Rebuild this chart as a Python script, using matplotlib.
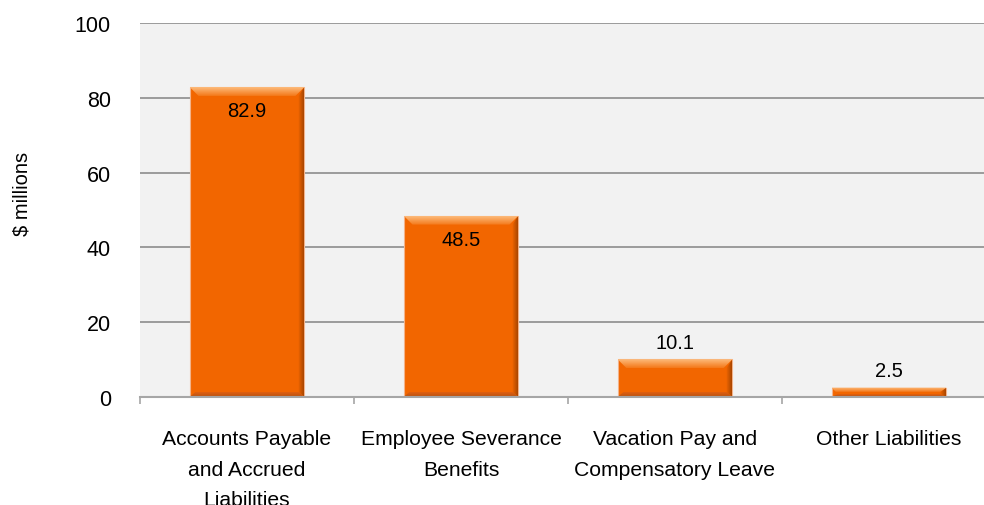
import numpy as np
import matplotlib.pyplot as plt
from matplotlib.patches import Polygon

plt.rcParams['font.family'] = ['Liberation Sans', 'DejaVu Sans']

categories = ['Accounts Payable\nand Accrued\nLiabilities',
              'Employee Severance\nBenefits',
              'Vacation Pay and\nCompensatory Leave',
              'Other Liabilities']
values = [82.9, 48.5, 10.1, 2.5]
label_inside = [True, True, False, False]

BAR = '#f26600'
GRID = '#8c8c8c'

fig = plt.figure(figsize=(9.84, 5.06), dpi=100)
ax = fig.add_axes([140 / 984, 108 / 506, 856 / 984, 374 / 506])
ax.set_facecolor('#f2f2f2')
ax.set_xlim(-0.5, len(values) - 0.5)
ax.set_ylim(0, 100)

# pixel sizes in data units, for the bevel edges
ax_w = 856.0
ax_h = 374.0
px_x = len(values) / ax_w
px_y = 100.0 / ax_h

width = 0.537
x = np.arange(len(values))
ax.bar(x, values, width=width, color=BAR, edgecolor='#f3b38a',
       linewidth=0.8, zorder=3)


def grad_fill(poly, c0, c1, extent, vertical=True):
    n = 64
    t = np.linspace(0, 1, n)
    c0 = np.array(plt.matplotlib.colors.to_rgb(c0))
    c1 = np.array(plt.matplotlib.colors.to_rgb(c1))
    col = c0[None, :] * (1 - t[:, None]) + c1[None, :] * t[:, None]
    if vertical:
        img = col[:, None, :]
    else:
        img = col[None, :, :]
    im = ax.imshow(img, extent=extent, aspect='auto', origin='upper',
                   zorder=4, interpolation='bilinear')
    ax.add_patch(poly)
    im.set_clip_path(poly)


for xi, v in zip(x, values):
    x0, x1 = xi - width / 2, xi + width / 2
    h_px = v / px_y
    t_px = min(9.0, 0.45 * h_px)
    b_px = min(5.0, 0.3 * h_px)
    s = 6 * px_x
    st = min(9.0, t_px) * px_x
    tb = t_px * px_y
    bb = b_px * px_y

    # top highlight
    top = Polygon([(x0, v), (x1, v), (x1 - st, v - tb), (x0 + st, v - tb)],
                  closed=True, facecolor='none', edgecolor='none')
    grad_fill(top, '#fdbb7c', '#f47818', [x0, x1, v - tb, v])

    # right shade
    right = Polygon([(x1, v), (x1, 0), (x1 - s, bb), (x1 - s, v - tb)],
                    closed=True, facecolor='none', edgecolor='none')
    grad_fill(right, BAR, '#a84600', [x1 - s, x1, 0, v], vertical=False)

    # bottom shade
    bottom = Polygon([(x0, 0), (x1, 0), (x1 - s, bb), (x0 + s, bb)],
                     closed=True, facecolor='none', edgecolor='none')
    grad_fill(bottom, '#e06010', '#b85210', [x0, x1, 0, bb])

ax.set_xlim(-0.5, len(values) - 0.5)
ax.set_ylim(0, 100)

# value labels
for xi, v, inside in zip(x, values, label_inside):
    off = -24 if inside else 17
    ax.annotate(f'{v:.1f}', (xi, v), xytext=(0, off * 0.72),
                textcoords='offset points', ha='center', va='center',
                fontsize=14.5, color='black', zorder=6)

# axes styling
for side in ['top', 'right', 'left']:
    ax.spines[side].set_visible(False)
ax.spines['bottom'].set_color('#a6a6a6')
ax.spines['bottom'].set_linewidth(1.5)
ax.spines['bottom'].set_zorder(5)

ax.set_yticks(np.arange(0, 101, 20))
ax.yaxis.grid(True, color=GRID, linewidth=1.2)
ax.set_axisbelow(True)
ax.tick_params(axis='y', length=0, pad=21, labelsize=15.5)

ax.set_xticks(np.arange(-0.5, len(values), 1.0))
ax.set_xticklabels([])
ax.set_xticks(x, minor=True)
ax.set_xticklabels(categories, minor=True, fontsize=15.2, linespacing=1.78)
ax.tick_params(axis='x', which='major', length=5, width=1.2,
               color='#a6a6a6', direction='out')
ax.tick_params(axis='x', which='minor', length=0, pad=23)

fig.text(22 / 984, 1 - 194 / 506, '$ millions', rotation=90,
         ha='center', va='center', fontsize=14.5)

fig.savefig('out.png', dpi=100)
